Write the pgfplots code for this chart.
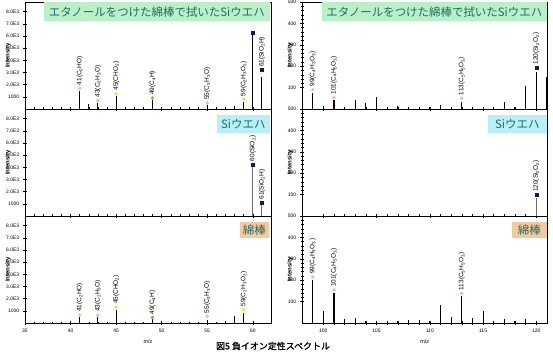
\documentclass[border=0pt]{standalone}
\usepackage{fontspec}
\setmainfont{Liberation Sans}
\newfontfamily\jp{Noto Sans CJK JP}
\newfontfamily\jpb[FakeBold=1.2]{Noto Sans CJK JP}
\usepackage{pgfplots}
\pgfplotsset{compat=1.18}
\definecolor{peach}{RGB}{245,192,135}
\definecolor{yel}{RGB}{240,228,60}
\definecolor{orng}{RGB}{230,140,50}
\definecolor{navy}{RGB}{20,20,110}
\definecolor{boxgreen}{RGB}{185,240,200}
\definecolor{boxcyan}{RGB}{185,240,248}
\definecolor{boxpeach}{RGB}{245,200,158}
\definecolor{tealtext}{RGB}{30,110,100}
\definecolor{stickgray}{RGB}{110,110,110}
\newcommand\s[1]{\textsubscript{#1}}
\pgfplotsset{
  base/.style={scale only axis, anchor=south west, clip=false,
    axis line style={line width=0.8pt},
    tick style={black, line width=0.5pt}, tick align=center,
    major tick length=4.5bp, minor tick length=3bp,
    xtick pos=bottom, ytick pos=left,
    ticklabel style={font=\fontsize{5}{6}\selectfont},
    /pgf/number format/assume math mode=true,
    ylabel={\textbf{Intensity}},
    ylabel style={font=\fontsize{6}{7}\selectfont, anchor=center},
    xlabel style={font=\fontsize{5.5}{6}\selectfont},
    height=107bp},
  leftax/.style={base, width=246bp, xmin=35, xmax=62, ymin=0, ymax=8800,
    xtick={35,40,...,60}, minor x tick num=4,
    ytick={1000,2000,...,8000},
    yticklabels={1000,2.0E3,3.0E3,4.0E3,5.0E3,6.0E3,7.0E3,8.0E3},
    ylabel style={at={(axis description cs:-0.069,0.5)}}},
  rightax/.style={base, width=245.5bp, xmin=98, xmax=121.05, ymin=0, ymax=500,
    xtick={100,105,...,120}, minor x tick num=4,
    ytick={100,200,...,500}, minor y tick num=4,
    ylabel style={at={(axis description cs:-0.049,0.5)}}},
  stick/.style={ycomb, line width=1.1pt, forget plot, no marks},
  lab/.style={only marks, mark size=1.6pt, point meta=explicit symbolic,
    nodes near coords,
    nodes near coords style={rotate=90, anchor=west, black,
      font=\fontsize{6.5}{7}\selectfont, inner xsep=3bp, inner ysep=0.5bp}},
  pk/.style={lab, mark=*, mark options={draw=peach, fill=peach}},
  yk/.style={lab, mark=*, mark options={draw=yel, fill=yel}},
  ok/.style={lab, mark=*, mark options={draw=orng, fill=orng}},
  nk/.style={lab, mark=square*, mark size=1.5pt, mark options={draw=navy, fill=navy}},
}
\begin{document}
\begin{tikzpicture}
\useasboundingbox (0,0) rectangle (553bp,352bp);
% ---------- top left ----------
\begin{axis}[leftax, at={(25bp,243bp)}, xticklabels={}]
\addplot[stick, black] coordinates {(41,1500)(42,450)(43,500)(45,1100)(49,700)(55,300)(58,250)(59,600)(60,6150)(61,2600)};
\addplot[pk] coordinates {(41,1700)[41(C\s{2}HO)] (43,700)[43(C\s{2}H\s{3}O)] (55,500)[55(C\s{3}H\s{3}O)]};
\addplot[yk] coordinates {(45,1250)[45(CHO\s{2})] (59,800)[59(C\s{2}H\s{3}O\s{2})]};
\addplot[ok] coordinates {(49,900)[49(C\s{4}H)]};
\addplot[nk] coordinates {(60,6300)[] (61,3200)[61(SiO\s{2}H)]};
\end{axis}
% ---------- middle left ----------
\begin{axis}[leftax, at={(25bp,136bp)}, xticklabels={}]
\addplot[stick, stickgray] coordinates {(60,4100)(61,900)};
\addplot[nk] coordinates {(60,4250)[60(SiO\s{2})] (61,1100)[61(SiO\s{2}H)]};
\end{axis}
% ---------- bottom left ----------
\begin{axis}[leftax, at={(25bp,29bp)}, xlabel={m/z}]
\addplot[stick, black] coordinates {(41,500)(43,500)(45,1050)(49,300)(55,250)(57,150)(58,550)(59,800)};
\addplot[pk] coordinates {(41,650)[41(C\s{2}HO)] (43,650)[43(C\s{2}H\s{3}O)] (55,550)[55(C\s{3}H\s{3}O)]};
\addplot[yk] coordinates {(45,1300)[45(CHO\s{2})] (59,1100)[59(C\s{2}H\s{3}O\s{2})]};
\addplot[ok] coordinates {(49,450)[49(C\s{4}H)]};
\end{axis}
% ---------- top right ----------
\begin{axis}[rightax, at={(302bp,243bp)}, xticklabels={}]
\addplot[stick, black] coordinates {(99,75)(100,12)(101,40)(102,10)(103,40)(104,27)(105,58)(106,10)(107,15)(108,10)(109,10)(110,8)(111,20)(112,10)(113,35)(114,10)(115,10)(116,10)(117,35)(118,10)(119,109)(120,171)(121,151)};
\addplot[pk] coordinates {(99,90)[99(C\s{4}H\s{3}O\s{3})] (101,53)[101(C\s{4}H\s{5}O\s{3})] (113,50)[113(C\s{5}H\s{5}O\s{3})]};
\addplot[nk] coordinates {(120,194)[120(Si\s{2}O\s{2})]};
\end{axis}
% ---------- middle right ----------
\begin{axis}[rightax, at={(302bp,136bp)}, xticklabels={}]
\addplot[stick, stickgray] coordinates {(120,85)};
\addplot[nk] coordinates {(120,98)[120(Si\s{2}O\s{2})]};
\end{axis}
% ---------- bottom right ----------
\begin{axis}[rightax, at={(302bp,29bp)}, xlabel={m/z}]
\addplot[stick, black] coordinates {(99,200)(100,58)(101,142)(102,20)(103,25)(104,8)(105,10)(106,8)(107,10)(108,12)(109,15)(110,10)(111,82)(112,30)(113,125)(114,25)(115,58)(116,8)(117,20)(118,8)(119,20)(120,10)};
\addplot[pk] coordinates {(99,215)[99(C\s{4}H\s{3}O\s{3})] (101,154)[101(C\s{4}H\s{5}O\s{3})] (113,138)[113(C\s{5}H\s{5}O\s{3})]};
\end{axis}
% ---------- panel labels ----------
\tikzset{pbox/.style={anchor=north east, text=tealtext, font=\jp\fontsize{11.5}{12}\selectfont, inner xsep=3bp, inner ysep=0pt, minimum height=19bp}}
\node[pbox, fill=boxgreen, minimum width=226bp] at (270bp,350bp) {エタノールをつけた綿棒で拭いたSiウエハ};
\node[pbox, fill=boxgreen, minimum width=225bp] at (547bp,350bp) {エタノールをつけた綿棒で拭いたSiウエハ};
\node[pbox, fill=boxcyan, minimum width=53bp, minimum height=18bp] at (270bp,237bp) {Siウエハ};
\node[pbox, fill=boxcyan, minimum width=59bp, minimum height=18bp] at (547bp,237bp) {Siウエハ};
\node[pbox, fill=boxpeach, minimum width=29bp, minimum height=16bp] at (269bp,130bp) {綿棒};
\node[pbox, fill=boxpeach, minimum width=35bp, minimum height=16bp] at (547bp,130bp) {綿棒};
% ---------- caption ----------
\node[font=\jpb\fontsize{9}{10}\selectfont, anchor=center] at (273bp,6bp) {図5\ 負イオン定性スペクトル};
\end{tikzpicture}
\end{document}
